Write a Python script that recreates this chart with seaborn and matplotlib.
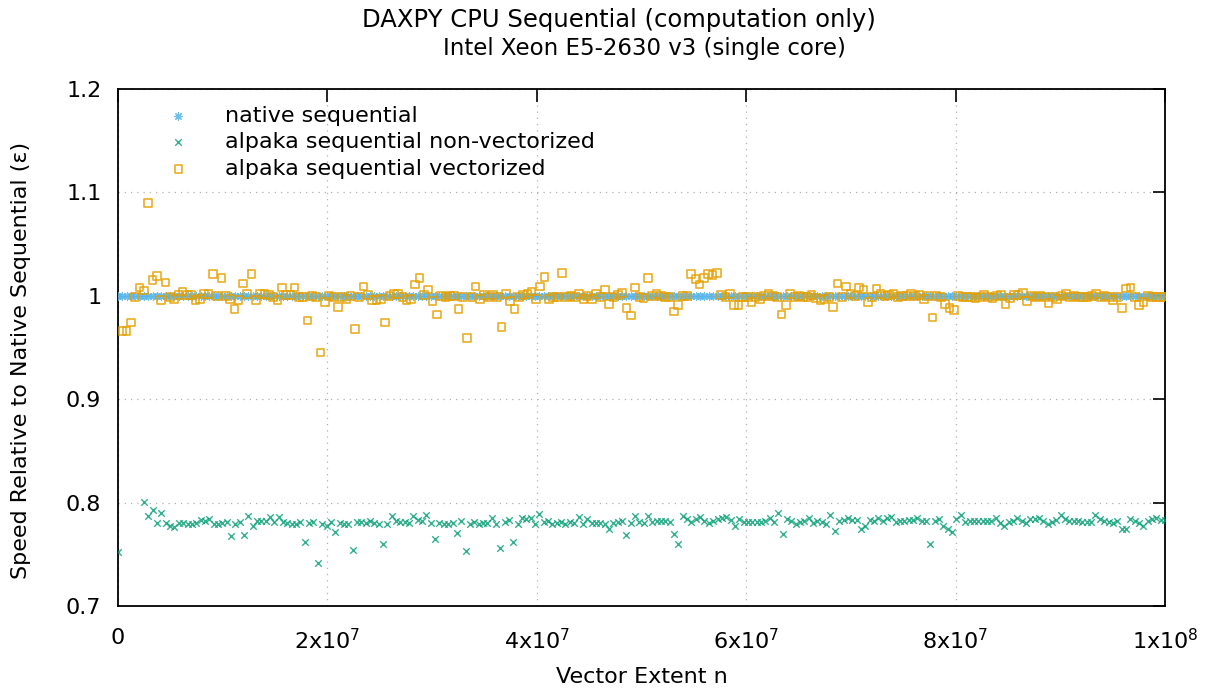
import matplotlib
matplotlib.use("Agg")
import matplotlib.pyplot as plt
import numpy as np
import seaborn as sns

# ── Data ──────────────────────────────────────────────────────────────────────

nan = np.nan

non_vectorized = [
    0.752, nan, nan, nan, nan, nan, 0.801, 0.787, 0.793, 0.780,
    0.790, 0.780, 0.777, 0.776, 0.780, 0.780, 0.779, 0.779, 0.780, 0.783,
    0.782, 0.784, 0.779, 0.779, 0.780, 0.781, 0.768, 0.779, 0.781, 0.769,
    0.787, 0.777, 0.782, 0.782, 0.782, 0.786, 0.781, 0.786, 0.781, 0.780,
    0.779, 0.779, 0.781, 0.762, 0.780, 0.781, 0.742, 0.779, 0.777, 0.781,
    0.772, 0.780, 0.779, 0.779, 0.754, 0.781, 0.781, 0.780, 0.782, 0.780,
    0.779, 0.760, 0.779, 0.787, 0.782, 0.781, 0.781, 0.780, 0.787, 0.783,
    0.782, 0.788, 0.780, 0.765, 0.780, 0.779, 0.779, 0.780, 0.771, 0.782,
    0.753, 0.779, 0.781, 0.779, 0.780, 0.780, 0.785, 0.779, 0.756, 0.781,
    0.783, 0.762, 0.779, 0.785, 0.784, 0.785, 0.779, 0.789, 0.781, 0.782,
    0.779, 0.780, 0.781, 0.779, 0.781, 0.780, 0.786, 0.779, 0.784, 0.780,
    0.780, 0.780, 0.779, 0.774, 0.780, 0.781, 0.782, 0.769, 0.780, 0.787,
    0.781, 0.780, 0.787, 0.781, 0.782, 0.782, 0.782, 0.781, 0.770, 0.760,
    0.787, 0.784, 0.781, 0.784, 0.786, 0.782, 0.780, 0.782, 0.784, 0.785,
    0.786, 0.783, 0.777, 0.784, 0.781, 0.781, 0.781, 0.781, 0.781, 0.782,
    0.785, 0.781, 0.790, 0.770, 0.784, 0.782, 0.779, 0.781, 0.782, 0.785,
    0.780, 0.782, 0.781, 0.779, 0.788, 0.773, 0.782, 0.783, 0.785, 0.783,
    0.783, 0.774, 0.777, 0.783, 0.782, 0.785, 0.782, 0.785, 0.786, 0.781,
    0.782, 0.782, 0.783, 0.783, 0.785, 0.782, 0.782, 0.760, 0.782, 0.784,
    0.777, 0.774, 0.772, 0.784, 0.788, 0.781, 0.782, 0.782, 0.782, 0.782,
    0.782, 0.782, 0.785, 0.780, 0.777, 0.781, 0.782, 0.785, 0.782, 0.780,
    0.784, 0.784, 0.785, 0.782, 0.779, 0.781, 0.783, 0.788, 0.784, 0.782,
    0.782, 0.782, 0.781, 0.781, 0.781, 0.788, 0.784, 0.782, 0.781, 0.780,
    0.782, 0.774, 0.774, 0.784, 0.782, 0.780, 0.777, 0.782, 0.784, 0.785,
    0.783, 0.783,
]

vectorized = [
    nan, 0.966, 0.966, 0.974, 0.999, 1.008, 1.005, 1.090, 1.015, 1.019,
    0.996, 1.013, 0.999, 0.997, 1.001, 1.004, 1.001, 1.001, 0.996, 0.997,
    1.002, 1.002, 1.021, 1.000, 1.017, 1.000, 0.997, 0.987, 0.996, 1.012,
    1.002, 1.021, 0.996, 1.002, 1.002, 1.001, 0.999, 0.996, 1.008, 1.001,
    1.001, 1.008, 0.999, 0.999, 0.976, 1.000, 0.999, 0.945, 0.994, 1.000,
    0.999, 0.989, 0.999, 0.997, 1.000, 0.968, 0.999, 1.009, 1.001, 0.996,
    0.996, 0.997, 0.974, 1.000, 1.002, 1.002, 0.999, 0.996, 0.997, 1.011,
    1.017, 1.001, 1.006, 0.995, 0.982, 1.000, 0.999, 1.000, 1.000, 0.987,
    0.999, 0.959, 0.999, 1.009, 0.997, 1.001, 0.999, 1.001, 0.999, 0.970,
    1.002, 0.995, 0.987, 0.999, 1.001, 1.002, 1.004, 0.997, 1.009, 1.018,
    0.997, 0.999, 0.999, 1.022, 0.999, 1.000, 0.999, 1.002, 0.997, 1.000,
    0.997, 1.002, 0.999, 1.006, 0.992, 0.999, 1.001, 1.003, 0.988, 0.981,
    1.008, 0.999, 0.998, 1.017, 1.000, 1.002, 1.000, 0.999, 0.999, 0.985,
    0.991, 1.000, 1.000, 1.021, 1.016, 1.011, 1.017, 1.021, 1.020, 1.022,
    1.001, 0.999, 1.002, 0.991, 0.991, 0.999, 0.999, 0.994, 0.999, 0.997,
    1.000, 1.002, 1.000, 0.999, 0.982, 0.991, 1.002, 0.999, 1.000, 0.999,
    0.999, 1.001, 0.998, 0.996, 0.997, 0.999, 0.989, 1.012, 0.999, 1.009,
    1.002, 1.000, 1.008, 1.006, 0.994, 0.999, 1.007, 1.002, 1.000, 1.001,
    1.002, 0.999, 1.000, 1.000, 1.002, 1.000, 1.001, 0.997, 1.000, 0.979,
    1.000, 0.999, 0.992, 0.988, 0.986, 1.000, 0.999, 0.999, 0.999, 0.998,
    0.999, 1.001, 0.999, 0.998, 1.000, 1.001, 0.992, 0.998, 1.001, 1.001,
    1.003, 0.995, 1.000, 0.999, 1.000, 0.999, 0.993, 0.999, 0.997, 1.000,
    1.002, 0.999, 1.000, 0.999, 0.999, 0.999, 1.000, 1.002, 0.999, 1.000,
    0.999, 0.996, 0.999, 0.988, 1.007, 1.008, 0.999, 0.991, 0.994, 1.000,
    0.999, 0.999, 0.999, 0.999,
]

# native sequential is the reference itself: 1.0 at every measured extent
native = [1.0] * len(non_vectorized)

n_max = 1e8
x_ticks = [0, 2e7, 4e7, 6e7, 8e7, 1e8]
x_tick_labels = ["0", "2x10$^{7}$", "4x10$^{7}$", "6x10$^{7}$", "8x10$^{7}$", "1x10$^{8}$"]
y_ticks = [0.7, 0.8, 0.9, 1.0, 1.1, 1.2]
y_tick_labels = ["0.7", "0.8", "0.9", "1", "1.1", "1.2"]

BLUE, GREEN, ORANGE = "#56b4e9", "#009e73", "#e69f00"

# ── Plot ──────────────────────────────────────────────────────────────────────

sns.set_theme(style="white")
plt.rcParams["font.family"] = ["DejaVu Sans"]
plt.rcParams["mathtext.default"] = "regular"
plt.rcParams["text.color"] = "black"
plt.rcParams["axes.labelcolor"] = "black"

fig = plt.figure(figsize=(12.12, 6.88), dpi=100)
ax = fig.add_axes([118 / 1212, 1 - 606 / 688, (1165 - 118) / 1212, (606 - 89) / 688])

def extents(vals):
    return np.linspace(0, n_max, len(vals))

sns.scatterplot(x=extents(native), y=native, ax=ax, marker=(8, 2, 0), s=28,
                color=BLUE, linewidth=0.9, alpha=0.85,
                label="native sequential", zorder=3)
sns.scatterplot(x=extents(non_vectorized), y=non_vectorized, ax=ax, marker="x", s=22,
                color=GREEN, linewidth=1.0, alpha=0.8,
                label="alpaka sequential non-vectorized", zorder=3)
sns.scatterplot(x=extents(vectorized), y=vectorized, ax=ax, marker="s", s=30,
                facecolor="none", edgecolor=ORANGE, linewidth=1.2, alpha=0.85,
                label="alpaka sequential vectorized", zorder=4)

ax.set_xlim(0, n_max)
ax.set_ylim(0.7, 1.2)
ax.set_xticks(x_ticks)
ax.set_xticklabels(x_tick_labels)
ax.set_yticks(y_ticks)
ax.set_yticklabels(y_tick_labels)
ax.tick_params(axis="both", direction="in", length=9, width=1.2, labelsize=16,
               top=True, right=True, colors="black")
ax.tick_params(axis="x", pad=16)
ax.tick_params(axis="y", pad=12)
ax.grid(True, color="#b0b0b0", linestyle=(0, (1, 4)), linewidth=0.9)
for sp in ax.spines.values():
    sp.set_color("black")
    sp.set_linewidth(1.3)

ax.set_xlabel("Vector Extent n", fontsize=16, va="center")
ax.xaxis.set_label_coords(0.5, -(677 - 606) / 517)
ax.set_ylabel("Speed Relative to Native Sequential (\u03b5)", fontsize=16, va="center")
ax.yaxis.set_label_coords(-(118 - 21) / 1047, 0.475)

fig.text(619 / 1212, 1 - 20 / 688, "DAXPY CPU Sequential (computation only)",
         ha="center", va="center", fontsize=17.5)
fig.text(644 / 1212, 1 - 49 / 688, "Intel Xeon E5-2630 v3 (single core)",
         ha="center", va="center", fontsize=16.5)

leg = ax.legend(loc="upper left", bbox_to_anchor=(0.028, 0.985), frameon=False,
                fontsize=16, handletextpad=1.1, labelspacing=0.3,
                markerscale=1.0, borderaxespad=0)

fig.savefig("out.png", dpi=100)
plt.close(fig)
